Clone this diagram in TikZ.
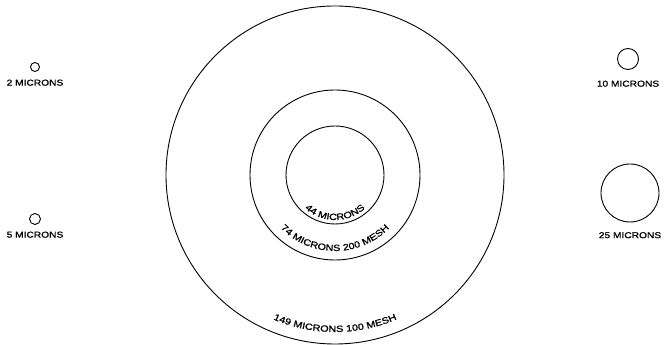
\documentclass[tikz,border=0pt]{standalone}
\usepackage{fontspec}
\newfontfamily\lblfont[FakeStretch=1.2,FakeBold=1.2]{Liberation Sans}
\usetikzlibrary{positioning, decorations.text}

\begin{document}
\begin{tikzpicture}[
    x=1pt, y=1pt,
    node distance=8pt,
    ring/.style={circle, draw, line width=0.9pt, inner sep=0pt, outer sep=0pt},
    tag/.style={font=\lblfont\fontsize{8.5}{10}\selectfont, inner sep=0pt},
    arctext/.style={decorate, decoration={text along path, text align=center,
                    text={|\lblfont\fontsize{9}{10}\selectfont|#1}}},
  ]
  \useasboundingbox (0,0) rectangle (664,345);
  % sieve openings
  \coordinate (c) at (335,170);
  \node[ring, minimum size=338pt] (mesh100) at (c) {};
  \node[ring, minimum size=170pt] (mesh200) at (c) {};
  \node[ring, minimum size=98pt] (m44) at (c) {};
  % small particles
  \node[ring, minimum size=9pt] (m2) at (35,278) {};
  \node[tag, below=8pt of m2] (m2lbl) {2 MICRONS};
  \node[ring, minimum size=11pt] (m5) at (35,126) {};
  \node[tag, below=7pt of m5] (m5lbl) {5 MICRONS};
  \node[ring, minimum size=21pt] (m10) at (628,286) {};
  \node[tag, below=11pt of m10] (m10lbl) {10 MICRONS};
  \node[ring, minimum size=58pt] (m25) at (630,152) {};
  \node[tag, below=10pt of m25] (m25lbl) {25 MICRONS};
  % labels round the rings
  \path[arctext={44 MICRONS}, shift={(c)}] (212:45) arc[start angle=212, end angle=328, radius=45];
  \path[arctext={74 MICRONS 200 MESH}, shift={(c)}] (210:76) arc[start angle=210, end angle=330, radius=76];
  \path[arctext={149 MICRONS 100 MESH}, shift={(c)}] (235:157) arc[start angle=235, end angle=305, radius=157];
\end{tikzpicture}
\end{document}
